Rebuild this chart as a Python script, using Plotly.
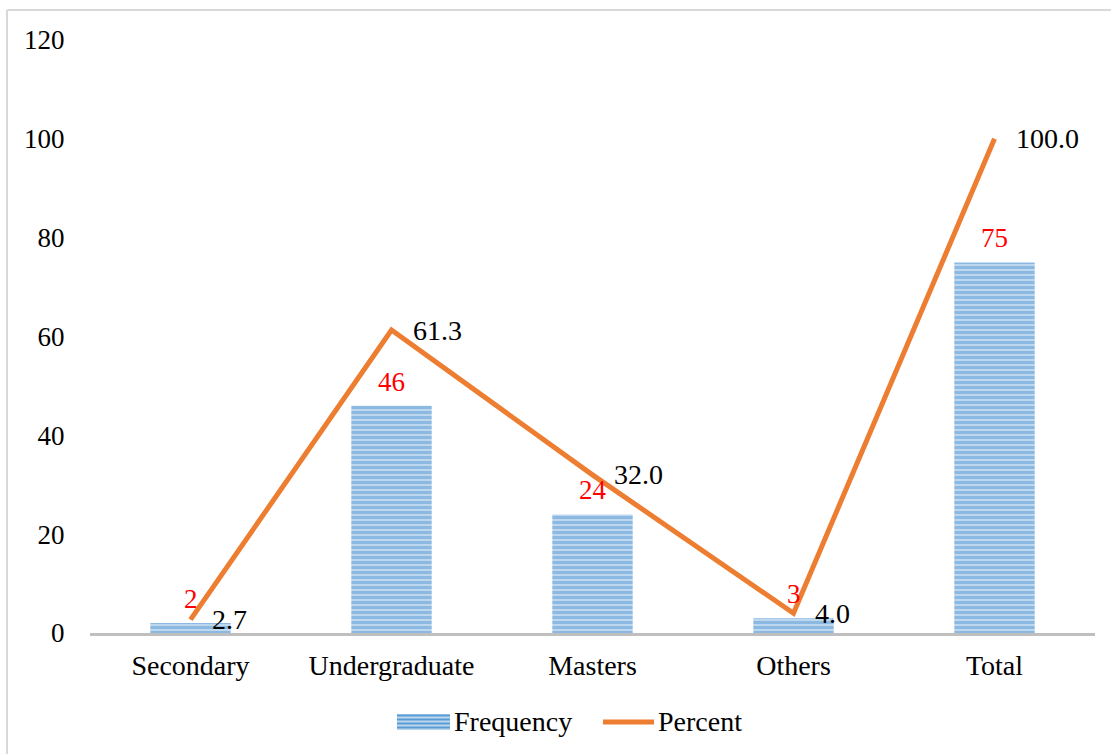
import plotly.graph_objects as go

categories = ["Secondary", "Undergraduate", "Masters", "Others", "Total"]
frequency = [2, 46, 24, 3, 75]
percent = [2.7, 61.3, 32.0, 4.0, 100.0]
y_ticks = [0, 20, 40, 60, 80, 100, 120]
series_names = ["Frequency", "Percent"]

FONT = "Liberation Serif, Times New Roman, serif"
BAR_LIGHT = "#bdd7ee"
BAR_DARK = "#5b9bd5"
LINE_COLOR = "#ed7d31"

fig = go.Figure()

fig.add_trace(go.Bar(
    x=categories,
    y=frequency,
    name=series_names[0],
    showlegend=False,
    marker=dict(
        color=BAR_LIGHT,
        line=dict(width=0),
        pattern=dict(shape="-", fgcolor=BAR_DARK, bgcolor=BAR_LIGHT, size=5, solidity=0.6),
    ),
))

fig.add_trace(go.Scatter(
    x=categories,
    y=percent,
    name=series_names[1],
    mode="lines",
    showlegend=False,
    line=dict(color=LINE_COLOR, width=5),
))

annotations = []
for c, f in zip(categories, frequency):
    annotations.append(dict(
        x=c, y=f, text=str(f), showarrow=False,
        xanchor="center", yanchor="bottom", yshift=7,
        font=dict(family=FONT, size=27, color="#ff0000"),
    ))
for c, p in zip(categories, percent):
    annotations.append(dict(
        x=c, y=p, text=f"{p:.1f}", showarrow=False,
        xanchor="left", yanchor="middle", xshift=19,
        font=dict(family=FONT, size=28, color="#000000"),
    ))

# Legend drawn by hand so the bar swatch is a wide striped block
PLOT_L, PLOT_W, PLOT_T, PLOT_H = 90, 1005, 40, 593


def px(x):
    return (x - PLOT_L) / PLOT_W


def py(y):
    return (PLOT_T + PLOT_H - y) / PLOT_H


shapes = [
    dict(type="line", xref="paper", yref="paper", x0=px(7), x1=1.05, y0=py(10), y1=py(10),
         line=dict(color="#d9d9d9", width=2)),
    dict(type="line", xref="paper", yref="paper", x0=px(7), x1=px(7), y0=py(10), y1=-0.3,
         line=dict(color="#d9d9d9", width=2)),
    dict(type="rect", xref="paper", yref="paper", x0=px(397), x1=px(450), y0=py(714), y1=py(730),
         fillcolor=BAR_LIGHT, line=dict(width=0)),
    dict(type="line", xref="paper", yref="paper", x0=px(603), x1=px(654), y0=py(722), y1=py(722),
         line=dict(color=LINE_COLOR, width=5)),
]
for yy in (715.5, 719.5, 723.5, 727.5):
    shapes.append(dict(type="line", xref="paper", yref="paper", x0=px(397), x1=px(450),
                       y0=py(yy), y1=py(yy), line=dict(color=BAR_DARK, width=2)))

annotations += [
    dict(xref="paper", yref="paper", x=px(452), y=py(721), text=series_names[0], showarrow=False,
         xanchor="left", yanchor="middle", font=dict(family=FONT, size=28, color="#000000")),
    dict(xref="paper", yref="paper", x=px(656), y=py(721), text=series_names[1], showarrow=False,
         xanchor="left", yanchor="middle", font=dict(family=FONT, size=28, color="#000000")),
]

fig.update_layout(
    width=1111,
    height=754,
    margin=dict(l=PLOT_L, r=16, t=PLOT_T, b=121),
    paper_bgcolor="white",
    plot_bgcolor="white",
    font=dict(family=FONT, size=28, color="#000000"),
    bargap=0.6,
    showlegend=False,
    annotations=annotations,
    shapes=shapes,
    xaxis=dict(
        range=[-0.5, 4.5],
        showline=True, linecolor="#bfbfbf", linewidth=2.5,
        showgrid=False, zeroline=False,
        ticks="outside", ticklen=6, tickcolor="rgba(0,0,0,0)",
        tickfont=dict(family=FONT, size=28),
    ),
    yaxis=dict(
        range=[0, 120],
        tickvals=y_ticks,
        showline=False, showgrid=False, zeroline=False,
        ticks="outside", ticklen=19, tickcolor="rgba(0,0,0,0)",
        tickfont=dict(family=FONT, size=27),
    ),
)

fig.write_html("out.html")
